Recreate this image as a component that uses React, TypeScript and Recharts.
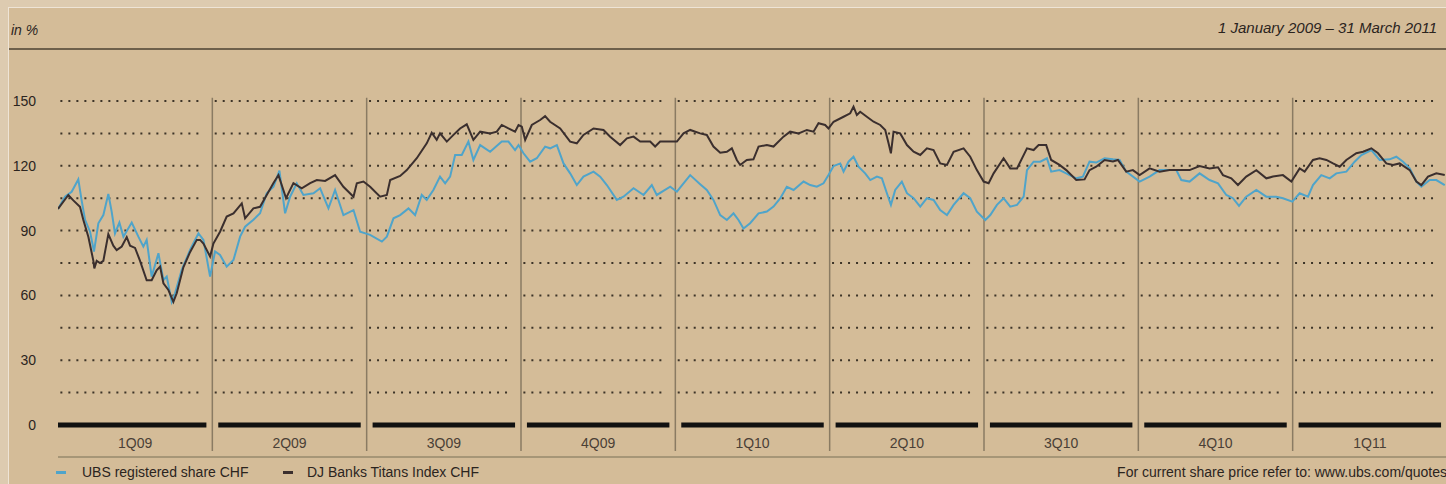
import { LineChart, Line, XAxis, YAxis, ReferenceLine } from "recharts";

// x values are weeks since 1 January 2009 (13 weeks per quarter)
const quarterLabels = ["1Q09", "2Q09", "3Q09", "4Q09", "1Q10", "2Q10", "3Q10", "4Q10", "1Q11"];
const weeksPerQuarter = 13;
const yTicks = [0, 30, 60, 90, 120, 150];
const gridLevels = [15, 30, 45, 60, 75, 90, 105, 120, 135, 150];

const ubsWeeks = [
  0, 0.59, 1.15, 1.71, 1.99, 2.28, 2.7, 3.03, 3.4, 3.82, 4.24, 4.52, 4.8, 5.17, 5.51, 6.21, 6.77, 7.19, 7.47, 7.89,
  8.46, 8.88, 9.16, 9.58, 9.86, 10.42, 11.12, 11.83, 12.25, 12.81, 13.23, 13.65, 14.21, 14.78, 15.34, 15.76, 16.46,
  17.02, 17.58, 18.15, 18.65, 19.13, 19.55, 20.11, 20.67, 21.52, 22.08, 22.78, 23.34, 24.04, 24.89, 25.45, 26.29,
  27.28, 27.7, 28.26, 28.82, 29.52, 30.08, 30.64, 31.06, 31.62, 32.18, 32.61, 33.03, 33.45, 34.01, 34.57, 34.99,
  35.56, 36.4, 37.38, 37.94, 38.5, 38.79, 39.21, 39.77, 40.33, 41.03, 41.45, 42.02, 42.58, 43.14, 43.7, 44.26,
  45.11, 45.67, 46.23, 47.07, 47.63, 48.48, 49.32, 50.02, 50.44, 51.57, 52.13, 52.69, 53.25, 54.09, 54.65, 55.21,
  55.78, 56.34, 56.9, 57.32, 57.74, 58.3, 59.01, 59.71, 60.27, 60.83, 61.39, 61.96, 62.8, 63.36, 63.92, 64.48, 64.9,
  65.33, 65.89, 66.17, 66.59, 67.01, 67.43, 67.99, 68.42, 68.98, 69.4, 69.82, 70.16, 70.52, 71.08, 71.51, 72.07,
  72.63, 73.19, 73.75, 74.31, 74.88, 75.44, 76.28, 76.84, 77.4, 78.11, 78.53, 79.09, 79.65, 80.21, 80.78, 81.34,
  81.62, 82.18, 82.74, 83.3, 83.66, 84.36, 84.93, 85.77, 86.33, 86.89, 87.45, 88.16, 88.86, 89.42, 89.98, 91.11,
  91.95, 92.79, 93.35, 94.2, 94.62, 95.32, 96.16, 97.0, 97.71, 98.41, 98.97, 99.48, 100.09, 100.94, 101.78, 102.62,
  103.18, 103.97, 104.59, 105.29, 105.71, 106.41, 107.12, 107.68, 108.52, 109.22, 109.79, 110.63, 111.33, 112.17,
  112.73, 113.3, 113.86, 114.42, 114.84, 115.54, 116.1, 116.81,
];
const ubsValues = [
  100, 105.7, 108, 113.7, 104, 95, 89.5, 80.3, 93.4, 97.2, 107, 98.8, 88.7, 93.7, 87.2, 93.7, 87.2, 82.6, 85.7, 68.7,
  79.5, 67.1, 68.7, 57, 61, 71.8, 81, 88.7, 85.7, 68.7, 80.3, 78.7, 73.3, 76.4, 87.2, 91.8, 95,
  98, 107.3, 110.3, 117.8, 98, 105.7, 111.9, 106.5, 107.3, 109.6, 100.3, 108.8, 97.2, 99.5, 89.5, 88,
  84.9, 87.2, 95.7, 97.2, 100.3, 97.2, 106.5, 104.2, 108.8, 115, 111.9, 115, 125, 125, 131.2, 122.7,
  129.6, 126.5, 131.2, 131.2, 127.3, 129.6, 125.8, 121.9, 123.5, 128.9, 128.1, 129.6, 121.1, 116.5, 111.1, 115,
  117.3, 115, 111.1, 104.2, 105.7, 109.6, 106.5, 111.1, 106.5, 110.3, 108, 111.9, 115.7, 111.5, 108.8, 104.2,
  97.2, 94.9, 98, 94.9, 91, 93.4, 98, 98.8, 101.1, 104.9, 110.3, 108.8, 112.7, 111.1, 110.3, 111.9, 115.7,
  119.9, 121.1, 117.3, 121.9, 124.2, 119.6, 116.5, 113.4, 115, 114.2, 107.3, 101.9, 108.8, 112.7, 107.3, 105,
  101.1, 105, 104.2, 99.5, 97.2, 101.9, 107.3, 105, 98.8, 94.9, 97.2, 101.9, 105, 101.1, 101.9, 105.7,
  118, 121.9, 121.9, 123.5, 117.3, 118, 116.5, 114.2, 115, 121.9, 121.5, 123.5, 123, 122.7, 117.3, 112.7,
  115, 118, 118, 118, 113.4, 112.7, 116.5, 113.4, 111.9, 106.5, 105, 101.4, 105.7, 108.8, 105.7, 105.7,
  105, 103.4, 107.3, 105.7, 111.1, 115.7, 114.2, 116.5, 117.3, 121.9, 125, 127.3, 122.7, 123,
  124.2, 121.9, 118.8, 112.7, 110.3, 113.4, 113.4, 111.1,
];

const banksWeeks = [
  0, 0.87, 1.29, 1.85, 2.13, 2.56, 2.98, 3.06, 3.26, 3.54, 3.82, 4.24, 4.66, 4.94, 5.37, 5.79, 6.07, 6.49, 6.91, 7.47,
  7.89, 8.31, 8.6, 8.88, 9.3, 9.72, 10.0, 10.56, 11.12, 11.69, 11.97, 12.25, 12.81, 13.09, 13.65, 14.21, 14.78,
  15.48, 15.76, 16.46, 17.02, 17.58, 18.15, 18.57, 19.21, 19.83, 20.53, 21.24, 21.8, 22.5, 23.34, 24.04, 24.89,
  25.17, 25.73, 26.29, 27.13, 27.7, 27.98, 28.82, 29.38, 30.22, 31.06, 31.48, 31.9, 32.18, 32.75, 33.31, 33.87,
  34.43, 34.99, 35.56, 36.4, 36.96, 37.38, 37.94, 38.5, 38.79, 39.07, 39.35, 39.91, 40.61, 41.03, 41.45, 42.3,
  43.14, 43.7, 44.26, 45.11, 45.95, 46.51, 47.35, 47.92, 48.48, 49.04, 49.88, 50.3, 50.72, 51.57, 52.13, 52.69,
  53.25, 54.09, 54.65, 55.21, 55.78, 56.34, 56.76, 57.18, 57.46, 58.02, 58.58, 59.01, 59.71, 60.27, 61.11, 61.67,
  62.38, 63.08, 63.64, 64.06, 64.62, 64.9, 65.33, 66.17, 66.73, 67.01, 67.29, 67.57, 68.13, 68.7, 69.26, 69.68,
  69.96, 70.16, 70.38, 70.94, 71.51, 72.07, 72.63, 73.19, 73.75, 74.31, 74.88, 75.44, 76.28, 76.84, 77.4, 77.97,
  78.39, 78.81, 79.65, 80.21, 80.78, 81.62, 82.18, 82.6, 83.24, 83.66, 84.36, 84.93, 85.77, 86.47, 86.89, 87.45,
  88.16, 88.86, 89.28, 89.98, 90.54, 91.11, 91.95, 92.79, 93.63, 94.48, 95.32, 96.16, 97.0, 97.71, 98.13, 98.83,
  99.39, 100.09, 100.94, 101.78, 102.34, 103.18, 103.89, 104.59, 105.01, 105.71, 106.27, 106.84, 107.4, 107.96,
  108.52, 109.36, 109.93, 110.63, 111.19, 111.89, 112.45, 113.01, 113.86, 114.42, 114.84, 115.4, 116.1, 116.81,
];
const banksValues = [
  100, 106.5, 104, 101, 95, 87, 76, 72.5, 76, 75, 76, 88.4, 83, 81, 82.6, 87, 83, 82, 76, 67,
  67, 71.6, 73.3, 65.6, 62.5, 57, 61, 73, 80, 85.7, 85.7, 84, 78, 84, 89.5, 96.5, 98,
  102.6, 95.7, 100.3, 101, 106.5, 112, 115.7, 105, 112, 109.6, 112, 113.4, 113, 115.7, 110.3, 105.7,
  111.9, 112.7, 110.3, 105.7, 106.5, 113.4, 115.3, 118, 123.5, 130.4, 135.3, 132, 135, 131.2, 134.3, 137.3,
  139.2, 132, 135.8, 135, 135.8, 138.9, 137.3, 135.8, 138.9, 138.1, 132, 138.9, 141.2, 143, 140.4, 137.3,
  131.2, 130.4, 134.3, 137.3, 136.6, 133.5, 129.6, 132.7, 133.5, 131.2, 131.2, 128.9, 131.2, 131.2, 131.2, 135,
  136.6, 135, 134.3, 128.9, 126.1, 126.5, 128.1, 122.7, 120.4, 122.7, 123, 128.9, 129.6, 128.9, 133.5, 135.8,
  135, 136.6, 135.8, 139.7, 138.9, 137.3, 140.4, 142.7, 144.3, 147.4, 143.5, 145, 142.7, 140.4, 138.9, 136.6,
  130.4, 125.8, 135.8, 135, 129.6, 126.5, 125, 128.1, 127.3, 121.1, 120.4, 126.5, 128.1, 124.2, 118, 112.7,
  111.9, 116.5, 123.5, 118.8, 118.8, 128.1, 127.3, 129.6, 129.6, 122.7, 120.4, 118, 113.4, 113.7, 118, 119.6,
  122.7, 122, 122.7, 117.3, 118, 115.7, 118.8, 117.3, 118, 118, 118, 119.9, 118.8, 119.3, 115.7, 114.2,
  111.1, 115, 118, 114.2, 115, 115.7, 112.7, 118.8, 117.3, 122.7, 123.5, 122.7, 121.1, 119.6,
  122.7, 125.8, 126.5, 128.1, 125.8, 121.1, 120.4, 121.1, 118, 112.7, 111.1, 115, 116.5, 115.7,
];

const ubsData = ubsWeeks.map((week, i) => ({ week, value: ubsValues[i] }));
const banksData = banksWeeks.map((week, i) => ({ week, value: banksValues[i] }));

const quarterStarts = quarterLabels.map((_, q) => q * weeksPerQuarter);
const quarterCenters = quarterStarts.map((s) => s + weeksPerQuarter / 2);
const totalWeeks = quarterLabels.length * weeksPerQuarter;

const font = "'Liberation Sans', Arial, sans-serif";
const ink = "#2b241e";

export default function App() {
  return (
    <div
      style={{
        position: "fixed",
        left: 0,
        top: 0,
        width: 1446,
        height: 484,
        overflow: "hidden",
        background: "#ddcbb0",
        fontFamily: font,
      }}
    >
      <div
        style={{
          position: "absolute",
          left: 8,
          top: 7,
          right: 0,
          bottom: 0,
          background: "#d4bc98",
          borderTop: "1px solid #eee4d6",
          borderLeft: "1px solid #eee4d6",
        }}
      />
      <div style={{ position: "absolute", left: 11, top: 22, fontSize: 14, fontStyle: "italic", color: ink }}>in %</div>
      <div style={{ position: "absolute", right: 9, top: 19, fontSize: 15, fontStyle: "italic", color: ink }}>
        1 January 2009 – 31 March 2011
      </div>
      <div style={{ position: "absolute", left: 9, right: 0, top: 48, height: 2, background: "#6e604b" }} />
      <div style={{ position: "absolute", left: 58, right: 0, top: 456, height: 2, background: "#a69677" }} />

      <div style={{ position: "absolute", left: 0, top: 0 }}>
        <LineChart width={1447} height={484} margin={{ top: 101, right: 0, bottom: 29, left: 0 }}>
          <XAxis
            type="number"
            dataKey="week"
            domain={[0, totalWeeks]}
            ticks={quarterCenters}
            tickFormatter={(v: number) => quarterLabels[Math.floor(v / weeksPerQuarter)]}
            axisLine={false}
            tickLine={false}
            tickMargin={7}
            height={30}
            tick={{ fontSize: 14, fill: "#4a4036", fontFamily: font }}
            allowDataOverflow
          />
          <YAxis
            type="number"
            domain={[0, 150]}
            ticks={yTicks}
            width={58}
            axisLine={false}
            tickLine={false}
            tickMargin={16}
            tick={{ fontSize: 14, fill: ink, fontFamily: font }}
            allowDataOverflow
          />
          {quarterStarts.map((s) =>
            gridLevels.map((lvl) => (
              <ReferenceLine
                key={`g-${s}-${lvl}`}
                segment={[
                  { x: s + 0.2, y: lvl },
                  { x: s + weeksPerQuarter - 0.7, y: lvl },
                ]}
                stroke="#3d3428"
                strokeWidth={2}
                strokeDasharray="2 6"
              />
            ))
          )}
          {quarterStarts.map((s, q) => (
            <ReferenceLine
              key={`z-${s}`}
              segment={[
                { x: s + (q === 0 ? 0 : 0.5), y: 0 },
                { x: s + weeksPerQuarter - 0.5, y: 0 },
              ]}
              stroke="#111"
              strokeWidth={5}
            />
          ))}
          {quarterStarts.slice(1).map((s) => (
            <ReferenceLine
              key={`s-${s}`}
              segment={[
                { x: s, y: -12 },
                { x: s, y: 151.5 },
              ]}
              stroke="#8a7b63"
              strokeWidth={1.5}
              ifOverflow="visible"
            />
          ))}
          <Line
            data={ubsData}
            dataKey="value"
            type="linear"
            stroke="#4fa4ca"
            strokeWidth={2}
            dot={false}
            isAnimationActive={false}
          />
          <Line
            data={banksData}
            dataKey="value"
            type="linear"
            stroke="#3b2f2e"
            strokeWidth={2}
            dot={false}
            isAnimationActive={false}
          />
        </LineChart>
      </div>

      <div style={{ position: "absolute", left: 56, top: 471, width: 10, height: 3, background: "#4fa4ca" }} />
      <div style={{ position: "absolute", left: 82, top: 464, fontSize: 14, color: ink }}>UBS registered share CHF</div>
      <div style={{ position: "absolute", left: 283, top: 471, width: 10, height: 3, background: "#3b2f2e" }} />
      <div style={{ position: "absolute", left: 307, top: 464, fontSize: 14, color: ink }}>DJ Banks Titans Index CHF</div>
      <div style={{ position: "absolute", right: -1, top: 464, fontSize: 14, color: ink }}>
        For current share price refer to: www.ubs.com/quotes
      </div>
    </div>
  );
}
